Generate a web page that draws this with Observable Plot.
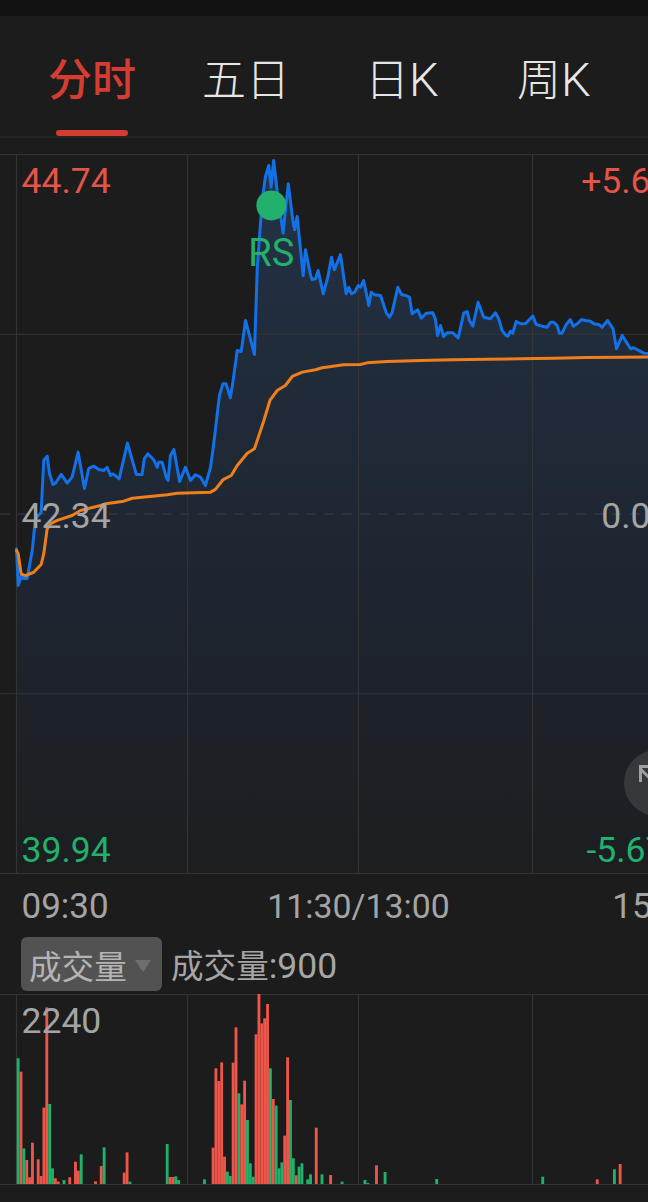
<!DOCTYPE html>
<html>
<head>
<meta charset="utf-8">
<script src="https://cdn.jsdelivr.net/npm/d3@7"></script>
<script src="https://cdn.jsdelivr.net/npm/@observablehq/plot@0.6"></script>
<style>
html,body{margin:0;padding:0;background:#1c1c1c;}
#page{position:relative;width:648px;height:1202px;overflow:hidden;background:#1c1c1c;font-family:"Noto Sans CJK SC",sans-serif;}
#page svg{display:block;background:transparent;}
.abs{position:absolute;white-space:nowrap;}
#topbar{left:0;top:0;width:648px;height:16px;background:#121212;}
.tab{top:47px;font-size:44px;line-height:60px;color:#e6e6e6;font-weight:300;}
.tab em{font-style:normal;font-family:Roboto,sans-serif;font-size:47px;font-weight:300;}
#ink{left:56px;top:130px;width:72px;height:6px;border-radius:3px;background:#d63d32;}
#tabline{left:0;top:136px;width:648px;height:2px;background:#262626;}
#picker{left:21px;top:937px;width:141px;height:54px;border-radius:6px;background:#525252;}
#picker span{position:absolute;left:8px;top:6px;font-size:32.6px;line-height:44px;color:#b4b4b4;}
#picker i{position:absolute;left:114px;top:23px;width:0;height:0;border-left:8px solid transparent;border-right:8px solid transparent;border-top:12px solid #6e6e6e;}
#vol{left:171px;top:941px;font-size:32.6px;line-height:46px;color:#a6a6a6;}
#vol em{font-style:normal;font-family:Roboto,sans-serif;font-size:35.5px;}
#knob{left:624px;top:750px;width:66px;height:66px;border-radius:33px;background:#37383a;}
#knob b{position:absolute;left:15px;top:15px;width:14px;height:14px;border-left:3px solid #a0a0a0;border-top:3px solid #a0a0a0;}
#knob u{position:absolute;left:16px;top:17px;width:26px;height:3px;background:#a0a0a0;transform-origin:0 50%;transform:rotate(45deg);}
#price,#volume{left:0;}
#price{top:150px;}
#volume{top:990px;}
</style>
</head>
<body>
<div id="page">
  <div class="abs" id="topbar"></div>
  <div class="abs tab" style="left:48px;color:#d63d32;font-size:44px;font-weight:500">分时</div>
  <div class="abs tab" style="left:202px">五日</div>
  <div class="abs tab" style="left:365px">日<em>K</em></div>
  <div class="abs tab" style="left:517px">周<em>K</em></div>
  <div class="abs" id="ink"></div>
  <div class="abs" id="tabline"></div>
  <div class="abs" id="price"></div>
  <div class="abs" id="knob"><b></b><u></u></div>
  <div class="abs" id="picker"><span>成交量</span><i></i></div>
  <div class="abs" id="vol">成交量<em>:900</em></div>
  <div class="abs" id="volume"></div>
</div>
<script>
// Minutes since the 09:30 open, with the trading lunch break removed
const priceMinutes = [0,.6,1.7,2.3,3.7,5.5,6.6,8.6,9.5,10.7,11.5,12.7,13.6,15.6,17.7,19.4,21.5,23.7,25.2,27,28.7,30.5,31.6,32.8,33.7,35.8,38.7,41.8,43.8,44.6,45.8,47.9,49.1,49.6,50.8,52.2,52.9,53.7,54.9,56.9,58.9,60.7,62.4,64.2,65.9,67.7,68.8,70.8,72,73.1,74.6,75.4,77,78.4,79.9,83,84,85.7,86.8,88,88.8,89.7,90.9,92.1,93,94.8,96.4,97,97.9,100,100.8,102.6,103.1,104.3,105.2,107,108.6,109.9,110.9,113,115,115.9,116.8,118,119.2,120,121.1,122.9,123.7,124.9,127,129,130.1,131,133,134.3,135.7,137.1,138,140,141.2,143,145.2,146.1,146.9,147.9,149,150.2,152.2,154.1,156,157.2,158,159.2,161,163,165.3,167.1,168.2,169.4,170.6,171.4,172.3,173.1,174.3,175.8,177.5,180.1,181.3,183.4,185.1,186.3,187.4,188.6,189.4,190.3,191.7,193.2,194.2,195.6,197.1,198.5,200.2,201.4,203.1,204.3,206.2,208.1,209.3,211.3,213,214.2,215.3,218.8,221.2];
const prices = [42.108,41.863,41.929,41.909,41.909,42.096,42.31,42.35,42.697,42.726,42.61,42.537,42.546,42.604,42.546,42.586,42.753,42.51,42.644,42.659,42.637,42.63,42.652,42.597,42.608,42.575,42.813,42.604,42.604,42.709,42.742,42.702,42.652,42.686,42.686,42.586,42.564,42.731,42.771,42.557,42.652,42.564,42.602,42.586,42.53,42.652,42.809,43.131,43.209,43.209,43.116,43.209,43.432,43.425,43.632,43.405,43.988,44.433,44.588,44.667,44.522,44.7,44.5,44.333,44.215,44.544,44.299,44.237,44.326,43.932,44.104,43.932,43.906,43.91,43.966,43.81,43.921,44.054,43.97,44.072,43.81,43.854,43.81,43.821,43.865,43.854,43.899,43.732,43.821,43.803,43.799,43.683,43.654,43.683,43.854,43.805,43.799,43.787,43.677,43.703,43.647,43.681,43.683,43.643,43.532,43.598,43.525,43.55,43.55,43.516,43.681,43.692,43.632,43.594,43.754,43.654,43.643,43.683,43.643,43.565,43.536,43.527,43.56,43.547,43.625,43.61,43.61,43.661,43.605,43.594,43.587,43.62,43.62,43.598,43.547,43.547,43.603,43.638,43.594,43.61,43.638,43.632,43.627,43.61,43.605,43.587,43.632,43.576,43.443,43.532,43.48,43.443,43.45,43.414,43.409];

const avgMinutes = [0,.6,1.6,3.1,6,8.6,9.5,10.7,11.9,14.2,19.4,22.3,29.3,31,36.9,40.4,52.6,56.1,67.7,69.4,72.1,74.9,77,80.5,83,86.3,88.4,90.9,93.8,96.2,99.7,104.3,106.6,114.1,120,122.3,129.3,140.9,152.5,164.2,175.8,187.4,199.1,210.7,221.2];
const avgPrices = [42.096,42.074,41.941,41.929,41.951,42.003,42.074,42.241,42.275,42.297,42.33,42.363,42.397,42.408,42.423,42.445,42.468,42.479,42.486,42.504,42.57,42.597,42.664,42.746,42.775,42.964,43.098,43.164,43.198,43.258,43.287,43.303,43.316,43.336,43.338,43.349,43.358,43.365,43.369,43.373,43.376,43.38,43.385,43.387,43.389];

const priceMax = 44.74, priceMid = 42.34, priceMin = 39.94;
const gridPrices = [43.54, 41.14];
const gridMinutes = [59.7, 119.3, 180];
const fullDay = 240;
const signal = {minute: 88.9, price: 44.40, label: "RS"};

// Volume: minute index, size, direction ("u" red, "d" green)
const volMinutes = [0,1,2,3,4,5,7,8,9,10,11,12,13,14,16,18,20,21,22,27,29,30,37,38,39,52,53,54,55,56,65,68,69,70,71,72,73,74,75,76,77,78,79,80,81,82,83,84,85,86,87,88,89,90,91,92,93,94,95,96,97,98,99,101,102,104,106,109,113,121,122,125,128,146,183,202,208,210];
const volSizes = [1482,1324,420,283,79,487,291,94,900,2083,943,185,67,28,47,79,263,157,350,31,212,432,134,373,28,472,83,83,90,47,55,428,1364,1214,1434,322,145,94,1430,1847,1069,939,1218,755,244,86,1765,2240,1894,1953,2122,1364,1002,924,185,255,570,1493,990,303,102,204,244,55,114,664,114,106,28,47,12,220,141,59,86,55,173,236];
const volDirs = ["d","u","d","u","u","u","u","u","u","u","d","d","u","u","d","u","u","u","d","u","u","d","u","u","d","d","u","u","d","d","d","u","u","u","u","u","d","d","u","u","d","u","u","d","d","d","u","u","u","u","u","d","u","d","d","d","u","u","d","d","u","d","d","d","d","u","d","u","d","d","d","u","d","d","d","u","d","u"];
const volMax = 2240;

const red = "#e5544a", green = "#22b16c", gray = "#a4a4a4", gridColor = "#333436";
const barRed = "#ef5548", barGreen = "#20b26b";
const blue = "#1371e8", orange = "#ef7f1a";
const font = "Roboto, sans-serif";

const bluePts = priceMinutes.map((m, i) => ({m, p: prices[i]}));
const avgPts = avgMinutes.map((m, i) => ({m, p: avgPrices[i]}));
const volPts = volMinutes.map((m, i) => ({m, v: volSizes[i], d: volDirs[i]}));

const gradient = () => {
  const defs = d3.create("svg:defs");
  const g = defs.append("linearGradient").attr("id", "under").attr("x1", 0).attr("x2", 0).attr("y1", 0).attr("y2", 1);
  g.append("stop").attr("offset", "0%").attr("stop-color", "#243349");
  g.append("stop").attr("offset", "25%").attr("stop-color", "#212c3b");
  g.append("stop").attr("offset", "60%").attr("stop-color", "#1e2530");
  g.append("stop").attr("offset", "100%").attr("stop-color", "#1c1e20");
  return defs.node();
};

const xScale = {domain: [0, fullDay], range: [16, 704], axis: null};

const pricePlot = Plot.plot({
  width: 648, height: 780,
  margin: 0,
  style: {background: "transparent", fontFamily: font, overflow: "hidden"},
  x: xScale,
  y: {domain: [priceMin, priceMax], range: [723, 4], axis: null},
  marks: [
    gradient,
    Plot.areaY(bluePts, {x: "m", y1: priceMin, y2: "p", fill: "url(#under)"}),
    Plot.ruleY(gridPrices, {stroke: gridColor, strokeWidth: 1.2}),
    Plot.ruleY([priceMax, priceMin], {stroke: gridColor, strokeWidth: 1.2}),
    Plot.ruleY([priceMid], {stroke: "#3a3d42", strokeWidth: 1.2, strokeDasharray: "10,8"}),
    Plot.ruleX([0, ...gridMinutes], {y1: priceMin, y2: priceMax, stroke: gridColor, strokeWidth: 1.2}),
    Plot.lineY(bluePts, {x: "m", y: "p", stroke: blue, strokeWidth: 3, curve: "linear"}),
    Plot.lineY(avgPts, {x: "m", y: "p", stroke: orange, strokeWidth: 3, curve: "linear"}),
    Plot.dot([signal], {x: "minute", y: "price", r: 15, fill: green, stroke: null}),
    Plot.text([signal], {x: "minute", y: "price", text: "label", fill: green, fontSize: 38, dy: 48}),
    Plot.text(["44.74"], {x: 0, y: priceMax, text: d => d, fill: red, fontSize: 35.5, textAnchor: "start", dx: 5, dy: 27}),
    Plot.text(["42.34"], {x: 0, y: priceMid, text: d => d, fill: gray, fontSize: 35.5, textAnchor: "start", dx: 5, dy: 3}),
    Plot.text(["39.94"], {x: 0, y: priceMin, text: d => d, fill: green, fontSize: 35.5, textAnchor: "start", dx: 5, dy: -23}),
    Plot.text(["+5.67%"], {x: fullDay, y: priceMax, text: d => d, fill: red, fontSize: 35.5, textAnchor: "end", dx: -8, dy: 27}),
    Plot.text(["0.00%"], {x: fullDay, y: priceMid, text: d => d, fill: gray, fontSize: 35.5, textAnchor: "end", dx: -8, dy: 3}),
    Plot.text(["-5.67%"], {x: fullDay, y: priceMin, text: d => d, fill: green, fontSize: 35.5, textAnchor: "end", dx: -13, dy: -23}),
    Plot.text(["09:30"], {x: 0, y: priceMin, text: d => d, fill: gray, fontSize: 35, textAnchor: "start", dx: 5, dy: 33.5}),
    Plot.text(["11:30/13:00"], {x: gridMinutes[1], y: priceMin, text: d => d, fill: gray, fontSize: 33.8, dy: 33.5}),
    Plot.text(["15:00"], {x: fullDay, y: priceMin, text: d => d, fill: gray, fontSize: 35, textAnchor: "end", dx: -5, dy: 33.5})
  ]
});
document.getElementById("price").appendChild(pricePlot);

const volumePlot = Plot.plot({
  width: 648, height: 196,
  margin: 0,
  style: {background: "transparent", fontFamily: font, overflow: "hidden"},
  x: xScale,
  y: {domain: [0, volMax], range: [194, 4], axis: null},
  marks: [
    Plot.ruleY([volMax, 0], {stroke: gridColor, strokeWidth: 1.2}),
    Plot.ruleX([0, ...gridMinutes], {y1: 0, y2: volMax, stroke: gridColor, strokeWidth: 1.2}),
    Plot.rectY(volPts, {x1: "m", x2: d => d.m + 1, y1: 0, y2: "v", dx: 0.7, fill: d => d.d === "u" ? barRed : barGreen}),
    Plot.text(["2240"], {x: 0, y: volMax, text: d => d, fill: gray, fontSize: 35.5, textAnchor: "start", dx: 5, dy: 27})
  ]
});
document.getElementById("volume").appendChild(volumePlot);
</script>
</body>
</html>
